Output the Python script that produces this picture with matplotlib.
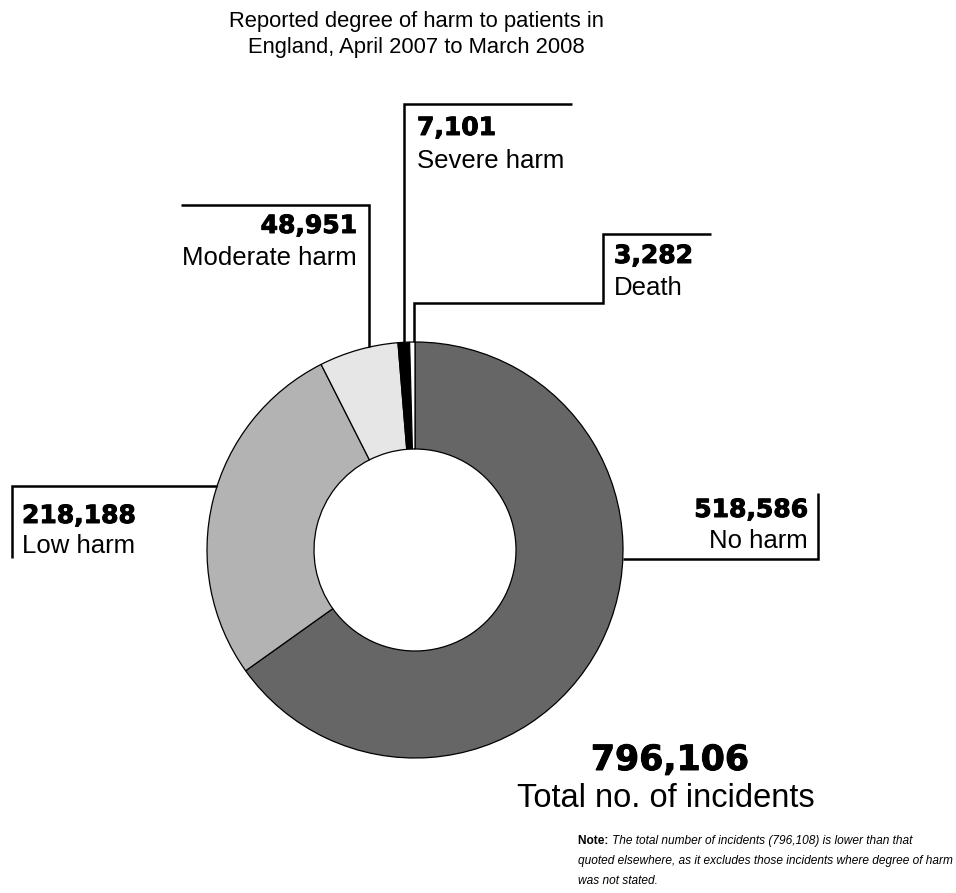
import numpy as np
import matplotlib.pyplot as plt
import matplotlib.patheffects as pe

# ----------------------------
# Data
# ----------------------------
categories = ['No harm', 'Low harm', 'Moderate harm', 'Severe harm', 'Death']
incidents = [518586, 218188, 48951, 7101, 3282]
total_incidents = 796106
colors = ['#666666', '#b3b3b3', '#e6e6e6', '#000000', '#ffffff']

title = 'Reported degree of harm to patients in\nEngland, April 2007 to March 2008'
note_lines = ['The total number of incidents (796,108) is lower than that',
              'quoted elsewhere, as it excludes those incidents where degree of harm',
              'was not stated.']

# ----------------------------
# Canvas in pixel units (y measured from top)
# ----------------------------
W, H = 956, 893
fig = plt.figure(figsize=(W / 100, H / 100), dpi=100)
ax = fig.add_axes([0, 0, 1, 1])


def py(y):
    return H - y


cx, cy = 415, py(550)
R, r_in = 208, 101

wedges, _ = ax.pie(incidents, colors=colors, startangle=90, counterclock=False,
                   radius=R, center=(cx, cy),
                   wedgeprops=dict(width=R - r_in, edgecolor='black', linewidth=0.9))
ax.set_xlim(0, W)
ax.set_ylim(0, H)
ax.set_aspect('equal')
ax.axis('off')

SANS = 'Liberation Sans'
BOLD = 'DejaVu Sans'
LW = 1.8
# heavier look for the black-weight numbers
heavy = [pe.withStroke(linewidth=0.7, foreground='black')]


def circle_y_at(x):
    # top of outer ring at a given x (pixel coords)
    return 550 - np.sqrt(R ** 2 - (x - cx) ** 2)


def circle_x_at(y, side):
    return cx + side * np.sqrt(R ** 2 - (y - 550) ** 2)


def mid_x(w):
    t = np.deg2rad((w.theta1 + w.theta2) / 2)
    return cx + R * np.cos(t)


def leader(points):
    xs = [p[0] for p in points]
    ys = [py(p[1]) for p in points]
    ax.plot(xs, ys, color='black', lw=LW, solid_capstyle='butt',
            solid_joinstyle='miter', zorder=3)


def label(x, y_num, y_txt, value, name, ha='left'):
    ax.text(x, py(y_num), f'{value:,}', ha=ha, va='baseline',
            fontsize=18, fontweight='bold', family=BOLD, path_effects=heavy)
    ax.text(x, py(y_txt), name, ha=ha, va='baseline', fontsize=18.5, family=SANS)


# No harm -> right
x0 = circle_x_at(559, 1)
leader([(x0, 559), (818, 559), (818, 493)])
label(808, 517, 548, incidents[0], categories[0], ha='right')

# Low harm -> left
x0 = circle_x_at(486, -1)
leader([(x0, 486), (12, 486), (12, 558)])
label(22, 523, 553, incidents[1], categories[1])

# Moderate harm -> up-left
xm = 369
leader([(xm, circle_y_at(xm)), (xm, 205), (181, 205)])
label(357, 233, 265, incidents[2], categories[2], ha='right')

# Severe harm -> up
xs = mid_x(wedges[3])
leader([(xs, circle_y_at(xs)), (xs, 104), (572, 104)])
label(417, 135, 168, incidents[3], categories[3])

# Death -> stepped up-right
xd = mid_x(wedges[4]) + 1.5
leader([(xd, circle_y_at(xd)), (xd, 303), (603, 303), (603, 234), (711, 234)])
label(614, 263, 295, incidents[4], categories[4])

# Total
ax.text(670, py(770), f'{total_incidents:,}', ha='center', va='baseline',
        fontsize=25, fontweight='bold', family=BOLD, path_effects=heavy)
ax.text(666, py(807), 'Total no. of incidents', ha='center', va='baseline',
        fontsize=23.5, family=SANS)

# Title
t1, t2 = title.split('\n')
ax.text(416, py(27), t1, ha='center', va='baseline', fontsize=15.8, family=SANS)
ax.text(416, py(53), t2, ha='center', va='baseline', fontsize=15.8, family=SANS)

# Note
NFS = 8.6
nb = ax.text(578, py(844), 'Note: ', ha='left', va='baseline', fontsize=NFS,
             fontweight='bold', family=SANS)
fig.canvas.draw()
bb = nb.get_window_extent()
ax.text(bb.x1, py(844), note_lines[0], ha='left', va='baseline', fontsize=NFS,
        style='italic', family=SANS)
ax.text(578, py(864), note_lines[1], ha='left', va='baseline', fontsize=NFS,
        style='italic', family=SANS)
ax.text(578, py(884), note_lines[2], ha='left', va='baseline', fontsize=NFS,
        style='italic', family=SANS)

fig.savefig('out.png', dpi=100)
